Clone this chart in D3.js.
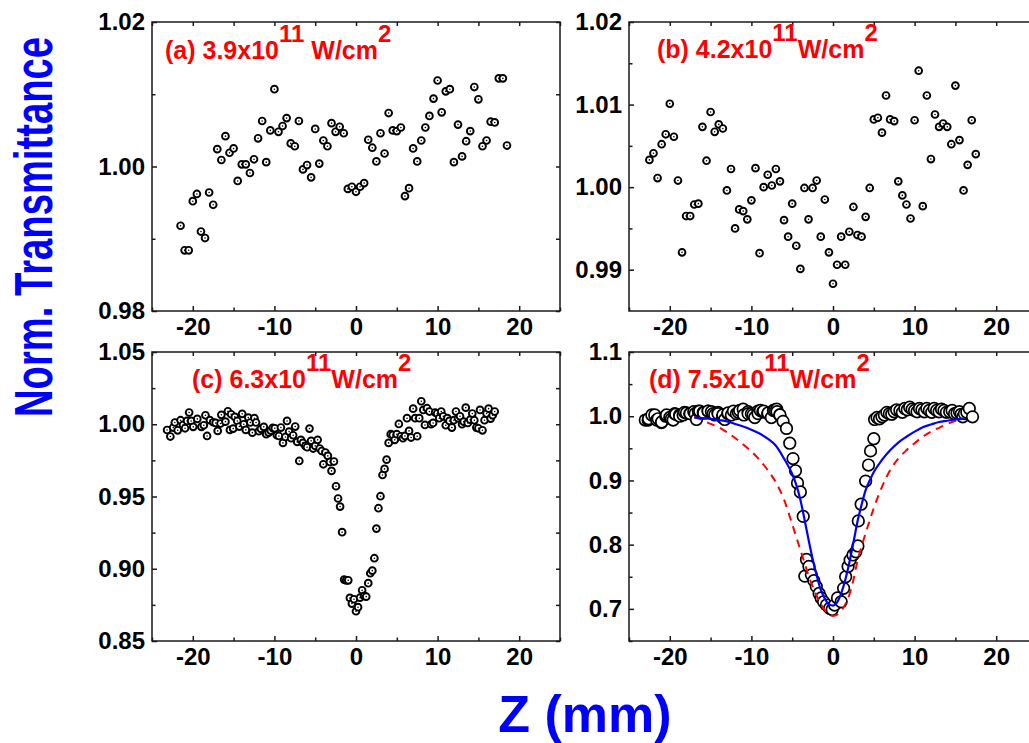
<!DOCTYPE html>
<html>
<head>
<meta charset="utf-8">
<script src="https://cdn.jsdelivr.net/npm/d3@7"></script>
<style>
body { margin: 0; background: #fff; }
svg text { font-family: "Liberation Sans", Arial, sans-serif; font-weight: bold; }
</style>
</head>
<body>
<div id="chart"></div>
<script>

// (a) 3.9x10^11 W/cm^2
var zA = [-21.5,-21,-20.5,-20,-19.5,-19,-18.5,-18,-17.5,-17,-16.5,-16,-15.5,-15,-14.5,-14,-13.5,-13,-12.5,-12,
  -11.5,-11,-10.5,-10,-9.5,-9,-8.5,-8,-7.5,-7,-6.5,-6,-5.5,-5,-4.5,-4,-3.5,-3,-2.5,-2,-1.5,-1,-0.5,0,
  0.5,1,1.5,2,2.5,3,3.5,4,4.5,5,5.5,6,6.5,7,7.5,8,8.5,9,9.5,10,10.5,11,11.5,12,12.5,13,13.5,14,14.5,15,
  15.5,16,16.5,17,17.5,18,18.5];
var tA = [0.9918,0.9884,0.9884,0.9952,0.9962,0.9910,0.9901,0.9964,0.9947,1.0024,1.0009,1.0042,1.0019,1.0025,
  0.9980,1.0003,1.0003,0.9991,1.0010,1.0039,1.0063,1.0006,1.0050,1.0107,1.0048,1.0056,1.0067,1.0032,1.0028,
  1.0063,0.9996,1.0002,0.9985,1.0052,1.0004,1.0036,1.0028,1.0060,1.0048,1.0055,1.0046,0.9969,0.9972,0.9965,
  0.9972,0.9977,1.0037,1.0026,1.0007,1.0046,1.0018,1.0074,1.0050,1.0049,1.0054,0.9959,0.9970,1.0025,1.0007,
  1.0036,1.0054,1.0070,1.0094,1.0119,1.0075,1.0104,1.0107,1.0006,1.0058,1.0014,1.0035,1.0049,1.0110,1.0093,
  1.0028,1.0036,1.0062,1.0061,1.0122,1.0122,1.0029];

// (b) 4.2x10^11 W/cm^2
var zB = [-22.5,-22,-21.5,-21,-20.5,-20,-19.5,-19,-18.5,-18,-17.5,-17,-16.5,-16,-15.5,-15,-14.5,-14,-13.5,-13,
  -12.5,-12,-11.5,-11,-10.5,-10,-9.5,-9,-8.5,-8,-7.5,-7,-6.5,-6,-5.5,-5,-4.5,-4,-3.5,-3,-2.5,-2,-1.5,-1,-0.5,0,
  0.5,1,1.5,2,2.5,3,3.5,4,4.5,5,5.5,6,6.5,7,7.5,8,8.5,9,9.5,10,10.5,11,11.5,12,12.5,13,13.5,14,14.5,15,
  15.5,16,16.5,17,17.5];
var tB = [1.0033,1.0041,1.0011,1.0052,1.0064,1.0101,1.0061,1.0008,0.9921,0.9965,0.9965,0.9979,0.9980,1.0073,
  1.0032,1.0091,1.0067,1.0076,1.0071,0.9996,1.0022,0.9950,0.9973,0.9971,0.9961,0.9984,1.0023,0.9920,1.0000,
  1.0015,1.0002,1.0022,1.0007,0.9960,0.9940,0.9980,0.9929,0.9901,0.9999,0.9961,0.9999,1.0008,0.9940,0.9985,
  0.9921,0.9883,0.9906,0.9940,0.9906,0.9946,0.9976,0.9942,0.9940,0.9964,0.9999,1.0082,1.0084,1.0066,1.0111,
  1.0082,1.0080,1.0007,0.9990,0.9979,0.9962,1.0081,1.0141,0.9977,1.0111,1.0034,1.0088,1.0073,1.0077,1.0073,
  1.0052,1.0123,1.0057,0.9996,1.0027,1.0081,1.0040];

// (c) 6.3x10^11 W/cm^2
var zC = [-23.15,-22.75,-22.4,-22.2,-21.85,-21.5,-21.2,-20.95,-20.7,-20.45,-20.2,-19.95,-19.45,-18.95,-18.65,
  -18.45,-18.25,-17.9,-17.5,-17.2,-16.95,-16.6,-16.5,-16,-15.7,-15.45,-15.3,-15.05,-14.85,-14.55,-14.3,-13.95,
  -13.75,-13.5,-13.2,-12.95,-12.7,-12.45,-12.25,-11.9,-11.65,-11.3,-11,-10.7,-10.45,-10.2,-9.95,-9.7,-9.45,-9.2,
  -8.95,-8.65,-8.45,-8.2,-7.95,-7.7,-7.45,-7.2,-6.95,-6.75,-6.5,-6.2,-6,-5.7,-5.5,-5.25,-5,-4.7,-4.45,-4.2,-4,
  -3.75,-3.45,-3.2,-3,-2.7,-2.45,-2.2,-1.95,-1.7,-1.45,-1.2,-0.95,-0.75,-0.5,-0.25,0,0.25,0.5,0.75,1,1.25,1.5,
  1.75,2,2.25,2.5,2.75,3,3.25,3.5,3.75,4,4.25,4.5,4.75,5,5.25,5.5,5.75,6,6.25,6.5,6.75,7,7.25,7.5,7.75,8,8.25,
  8.45,8.7,9,9.2,9.45,9.7,9.95,10.2,10.45,10.7,11,11.2,11.45,11.75,12,12.25,12.5,12.75,13,13.2,13.45,13.7,14,
  14.25,14.5,14.75,15,15.2,15.5,15.75,16,16.25,16.5,16.75,17];
var tC = [0.9960,0.9915,0.9977,1.0012,0.9958,1.0028,0.9995,0.9972,1.0023,1.0081,1.0023,0.9982,1.0037,0.9982,
  0.9993,1.0062,0.9919,1.0028,1.0014,1.0009,0.9954,1.0005,1.0065,1.0018,1.0090,0.9961,1.0069,0.9970,1.0051,
  1.0023,0.9984,1.0072,1.0000,0.9961,1.0046,1.0012,0.9942,1.0042,1.0012,0.9952,0.9968,0.9982,0.9931,0.9942,
  0.9956,0.9975,0.9972,0.9924,0.9919,0.9977,0.9871,0.9912,1.0023,0.9949,0.9903,0.9924,0.9984,0.9878,0.9746,
  0.9892,0.9871,0.9850,0.9841,0.9970,0.9885,0.9832,0.9850,0.9892,0.9832,0.9815,0.9723,0.9804,0.9781,0.9739,
  0.9677,0.9742,0.9571,0.9486,0.9430,0.9253,0.8925,0.8920,0.8920,0.8798,0.8759,0.8789,0.8706,0.8734,0.8800,
  0.8851,0.8812,0.8807,0.8900,0.8969,0.8987,0.9073,0.9278,0.9419,0.9502,0.9649,0.9691,0.9755,0.9871,0.9931,
  0.9926,0.9892,0.9931,1.0002,0.9917,0.9903,0.9919,1.0042,0.9954,0.9908,1.0108,1.0042,0.9917,1.0042,1.0159,
  1.0099,0.9995,1.0111,1.0088,1.0000,1.0009,1.0081,1.0074,1.0042,1.0088,1.0055,0.9993,1.0042,1.0023,0.9977,
  1.0028,1.0088,1.0042,1.0055,1.0000,1.0018,1.0115,1.0009,1.0032,1.0074,1.0028,0.9977,0.9972,1.0099,0.9958,
  1.0028,1.0074,1.0108,1.0039,1.0062,1.0088];

// (d) 7.5x10^11 W/cm^2, measured points
var zD = [-23,-22.65,-22.6,-22.2,-21.84,-21.6,-21.43,-21.02,-21,-20.49,-20.4,-20,-19.8,-19.59,-19.4,-19.27,
  -18.8,-18.78,-18.37,-18.2,-17.96,-17.55,-17.5,-17.06,-16.9,-16.73,-16.5,-16.33,-15.9,-15.84,-15.31,-15.3,
  -14.9,-14.7,-14.49,-14.1,-14.08,-13.55,-13.5,-13.27,-12.9,-12.86,-12.45,-12.2,-11.84,-11.6,-11.43,-11,
  -10.94,-10.41,-10.4,-10,-9.8,-9.59,-9.2,-9.18,-8.9,-8.6,-8.49,-8,-7.96,-7.55,-7.3,-7.14,-6.9,-6.86,-6.53,
  -6.5,-6.12,-5.7,-5.3,-4.9,-4.6,-4.35,-4,-3.65,-3.45,-3.25,-2.95,-2.65,-2.35,-2.05,-1.7,-1.45,-1.15,-0.8,
  -0.4,-0.1,0.2,0.55,1,1.3,1.55,1.85,2.1,2.45,2.8,3.05,3.1,3.45,4,4.35,4.6,5,5.1,5.4,5.7,6,6.3,6.6,6.9,7.2,
  7.5,7.8,8.2,8.5,8.8,9.1,9.4,9.7,10,10.3,10.6,10.9,11.2,11.5,11.8,12.1,12.4,12.7,13,13.3,13.6,13.9,14.3,
  14.6,14.9,15.2,15.5,15.7,15.9,16.1,16.4,16.7,17.1];
var tD = [0.994,0.994,0.996,1.002,1.002,0.994,0.996,0.990,0.991,1.000,1.002,0.998,0.996,0.994,1.004,1.003,
  1.002,1.000,1.002,1.006,1.005,1.004,1.004,1.007,1.004,0.995,1.008,1.008,1.006,1.005,1.008,1.008,1.007,
  1.004,1.002,1.006,1.004,0.998,1.002,0.995,1.004,1.005,1.002,1.008,1.004,1.006,1.009,1.011,1.002,1.007,
  1.004,1.004,1.002,0.998,1.008,1.004,1.009,1.007,1.008,1.004,1.005,0.998,1.009,1.010,1.011,1.007,1.002,
  1.002,0.992,0.981,0.958,0.934,0.915,0.896,0.882,0.844,0.751,0.777,0.766,0.753,0.744,0.735,0.724,0.717,
  0.711,0.706,0.701,0.699,0.706,0.717,0.711,0.732,0.750,0.766,0.776,0.784,0.789,0.798,0.837,0.863,0.899,
  0.924,0.946,0.965,0.995,0.998,0.996,0.999,1.002,1.006,1.004,1.003,1.007,1.010,1.009,1.006,1.012,1.010,
  1.014,1.011,1.009,1.007,1.012,1.010,1.007,1.012,1.009,1.006,1.012,1.009,1.007,1.011,1.009,1.006,1.007,
  1.009,1.004,1.005,1.007,1.003,0.999,1.004,1.006,1.012,0.999];

// (d) fitted curves
var fitZ = [-17,-16,-15,-14,-13,-12,-11,-10,-9,-8,-7,-6,-5,-4.5,-4,-3.5,-3,-2.5,-2,-1.5,-1,-0.5,0,
  0.5,1,1.5,2,2.5,3,3.5,4,4.5,5,6,7,8,9,10,11,12,13,14,15,16];
var fitSolid = [0.998,0.997,0.996,0.994,0.992,0.988,0.984,0.979,0.973,0.965,0.954,0.934,0.910,0.893,0.870,0.840,
  0.808,0.778,0.752,0.730,0.716,0.707,0.705,0.710,0.724,0.745,0.772,0.803,0.836,0.862,0.885,0.900,0.913,0.932,
  0.947,0.959,0.968,0.976,0.983,0.987,0.991,0.993,0.995,0.996];
var fitDashed = [0.999,0.994,0.988,0.983,0.975,0.966,0.956,0.945,0.932,0.916,0.897,0.870,0.832,0.812,0.792,0.772,
  0.752,0.735,0.720,0.708,0.698,0.692,0.689,0.691,0.697,0.707,0.722,0.745,0.775,0.797,0.818,0.838,0.857,0.890,
  0.916,0.934,0.947,0.958,0.968,0.976,0.982,0.988,0.993,0.997];

var xTicks = [-20, -10, 0, 10, 20];
var xMinor = [-25, -15, -5, 5, 15, 25];
var yTicksA = [0.98, 1.00, 1.02], yMinorA = [0.99, 1.01];
var yTicksB = [0.99, 1.00, 1.01, 1.02], yMinorB = [0.995, 1.005, 1.015];
var yTicksC = [0.85, 0.90, 0.95, 1.00, 1.05], yMinorC = [0.875, 0.925, 0.975, 1.025];
var yTicksD = [0.7, 0.8, 0.9, 1.0, 1.1], yMinorD = [0.65, 0.75, 0.85, 0.95, 1.05];

var labelHead = ['(a) 3.9x10', '(b) 4.2x10', '(c) 6.3x10', '(d) 7.5x10'];
var labelUnit = [' W/cm', 'W/cm', 'W/cm', 'W/cm'];

var width = 1029, height = 743,
    panelW = 408, panelH = 289,
    axisColor = '#1a1a1a';

var svg = d3.select('#chart')
  .append('svg')
  .attr('width', width)
  .attr('height', height)
  .style('display', 'block');

function zip(xs, ys) {
  return xs.map(function(d, i) { return [d, ys[i]]; });
}

function drawPanel(p) {
  var x = d3.scaleLinear().domain([-25, 25]).range([p.left, p.left + panelW]);
  var y = d3.scaleLinear().domain(p.yDomain).range([p.top + panelH, p.top]);
  var g = svg.append('g');

  function styleAxis(sel) {
    sel.select('.domain').remove();
    sel.attr('font-size', 24)
      .attr('font-family', '"Liberation Sans", Arial, sans-serif')
      .attr('font-weight', 'bold');
    sel.selectAll('line').attr('stroke', axisColor).attr('stroke-width', 1.5);
    sel.selectAll('text').attr('fill', '#000');
  }

  var fmtX = function(d) { return String(d); };

  // bottom + top
  g.append('g').attr('transform', 'translate(0,' + (p.top + panelH) + ')')
    .call(d3.axisBottom(x).tickValues(xTicks).tickSize(-5).tickPadding(7).tickFormat(fmtX))
    .call(styleAxis);
  g.append('g').attr('transform', 'translate(0,' + (p.top + panelH) + ')')
    .call(d3.axisBottom(x).tickValues(xMinor).tickSize(-3.5).tickFormat(''))
    .call(styleAxis);
  g.append('g').attr('transform', 'translate(0,' + p.top + ')')
    .call(d3.axisTop(x).tickValues(xTicks.concat(xMinor)).tickSize(-4).tickFormat(''))
    .call(styleAxis);

  // left + right
  g.append('g').attr('transform', 'translate(' + p.left + ',0)')
    .call(d3.axisLeft(y).tickValues(p.yTicks).tickSize(-5).tickPadding(7).tickFormat(d3.format(p.yFormat)))
    .call(styleAxis);
  g.append('g').attr('transform', 'translate(' + p.left + ',0)')
    .call(d3.axisLeft(y).tickValues(p.yMinor).tickSize(-3.5).tickFormat(''))
    .call(styleAxis);
  g.append('g').attr('transform', 'translate(' + (p.left + panelW) + ',0)')
    .call(d3.axisRight(y).tickValues(p.yTicks.concat(p.yMinor)).tickSize(-4).tickFormat(''))
    .call(styleAxis);

  g.append('rect')
    .attr('x', p.left).attr('y', p.top)
    .attr('width', panelW).attr('height', panelH)
    .attr('fill', 'none')
    .attr('stroke', axisColor)
    .attr('stroke-width', 1.5);

  // points
  var pts = g.append('g').selectAll('g')
    .data(zip(p.z, p.t))
    .enter()
    .append('g')
    .attr('transform', function(d) { return 'translate(' + x(d[0]) + ',' + y(d[1]) + ')'; });

  pts.append('circle')
    .attr('r', p.big ? 5.8 : 3.4)
    .attr('fill', '#fff')
    .attr('stroke', '#000')
    .attr('stroke-width', p.big ? 1.7 : 1.9);
  if (!p.big) {
    pts.append('circle').attr('r', 0.8).attr('fill', '#000');
  }

  if (p.fits) {
    var line = d3.line()
      .x(function(d) { return x(d[0]); })
      .y(function(d) { return y(d[1]); })
      .curve(d3.curveMonotoneX);
    g.append('path')
      .datum(zip(fitZ, fitDashed))
      .attr('d', line)
      .attr('fill', 'none')
      .attr('stroke', '#ff0000')
      .attr('stroke-width', 2)
      .attr('stroke-dasharray', '8,6');
    g.append('path')
      .datum(zip(fitZ, fitSolid))
      .attr('d', line)
      .attr('fill', 'none')
      .attr('stroke', '#0000ff')
      .attr('stroke-width', 2.2);
  }

  // panel label
  var t = g.append('text')
    .attr('x', p.lx).attr('y', p.ly)
    .attr('fill', '#ff0000')
    .attr('font-size', 25);
  t.append('tspan').text(labelHead[p.idx]);
  t.append('tspan').attr('dy', -17).attr('font-size', 24).text('11');
  t.append('tspan').attr('dy', 17).text(labelUnit[p.idx]);
  t.append('tspan').attr('dy', -17).attr('font-size', 24).text('2');
}

drawPanel({idx: 0, left: 152, top: 22, yDomain: [0.98, 1.02], yTicks: yTicksA, yMinor: yMinorA,
  yFormat: '.2f', z: zA, t: tA, lx: 165, ly: 59});
drawPanel({idx: 1, left: 629, top: 22, yDomain: [0.985, 1.02], yTicks: yTicksB, yMinor: yMinorB,
  yFormat: '.2f', z: zB, t: tB, lx: 657, ly: 58});
drawPanel({idx: 2, left: 152, top: 352, yDomain: [0.85, 1.05], yTicks: yTicksC, yMinor: yMinorC,
  yFormat: '.2f', z: zC, t: tC, lx: 192, ly: 388});
drawPanel({idx: 3, left: 629, top: 352, yDomain: [0.65, 1.1], yTicks: yTicksD, yMinor: yMinorD,
  yFormat: '.1f', z: zD, t: tD, lx: 649, ly: 388, big: true, fits: true});

// axis titles
svg.append('text')
  .attr('transform', 'translate(52,227) rotate(-90)')
  .attr('text-anchor', 'middle')
  .attr('font-size', 54)
  .attr('textLength', 380)
  .attr('lengthAdjust', 'spacingAndGlyphs')
  .attr('fill', '#0000ff')
  .text('Norm. Transmittance');

svg.append('text')
  .attr('x', 585).attr('y', 732)
  .attr('text-anchor', 'middle')
  .attr('font-size', 52)
  .attr('fill', '#0000ff')
  .text('Z (mm)');

</script>
</body>
</html>
